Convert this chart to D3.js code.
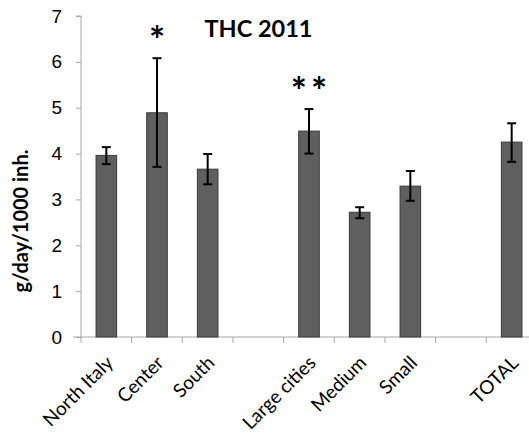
<!DOCTYPE html>
<html>
<head>
<meta charset="utf-8">
<script src="https://cdn.jsdelivr.net/npm/d3@7"></script>
<style>
  html, body { margin: 0; padding: 0; background: #fff; }
  svg { display: block; font-family: Lato, "Open Sans", sans-serif; }
</style>
</head>
<body>
<svg id="chart" width="529" height="435"></svg>
<script>
// THC consumption 2011, g/day per 1000 inhabitants
const slots = ["North Italy", "Center", "South", "", "Large cities", "Medium", "Small", "", "TOTAL"];
const categories = ["North Italy", "Center", "South", "Large cities", "Medium", "Small", "TOTAL"];
const means = [3.96, 4.89, 3.66, 4.49, 2.72, 3.29, 4.25];
const errLow = [3.77, 3.71, 3.33, 4.00, 2.59, 2.97, 3.82];
const errHigh = [4.14, 6.08, 3.99, 4.97, 2.83, 3.62, 4.66];
const marks = ["", "*", "", "**", "", "", ""];
const yTicks = [0, 1, 2, 3, 4, 5, 6, 7];

const svg = d3.select("#chart");
const plotLeft = 81, plotTop = 16, plotBottom = 337, plotRight = 537;

const x = d3.scaleBand().domain(slots.map((d, i) => i)).range([plotLeft, plotRight]).paddingInner(0).paddingOuter(0);
const y = d3.scaleLinear().domain([0, 7]).range([plotBottom, plotTop]);

// y axis
const yAxis = svg.append("g").attr("transform", `translate(${plotLeft},0)`)
  .call(d3.axisLeft(y).tickValues(yTicks).tickSize(5).tickPadding(14).tickFormat(d3.format("d")));
yAxis.select(".domain").attr("stroke", "#a6a6a6").attr("d", `M-5,${y(7)}H0V${y(0)}`);
yAxis.selectAll(".tick line").attr("stroke", "#a6a6a6");
yAxis.selectAll(".tick text").attr("font-size", 19).attr("fill", "#000");

// x axis with ticks at slot boundaries
const xg = svg.append("g");
xg.append("line").attr("x1", plotLeft - 8).attr("x2", 529).attr("y1", plotBottom).attr("y2", plotBottom)
  .attr("stroke", "#a6a6a6");
xg.selectAll("line.tk").data(d3.range(slots.length + 1)).join("line").attr("class", "tk")
  .attr("x1", i => plotLeft + i * x.step()).attr("x2", i => plotLeft + i * x.step())
  .attr("y1", plotBottom).attr("y2", plotBottom + 6).attr("stroke", "#a6a6a6");

const slotIndex = categories.map(c => slots.indexOf(c));
const cx = i => x(slotIndex[i]) + x.bandwidth() / 2;

xg.selectAll("text").data(categories).join("text")
  .attr("transform", (d, i) => `translate(${cx(i) + 8},${plotBottom + 27}) rotate(-45)`)
  .attr("text-anchor", "end")
  .attr("font-size", 19).attr("fill", "#000").text(d => d);

// bars
const barW = 20.6;
svg.append("g").selectAll("rect").data(means).join("rect")
  .attr("x", (d, i) => cx(i) - barW / 2).attr("width", barW)
  .attr("y", d => y(d)).attr("height", d => y(0) - y(d))
  .attr("fill", "#5f5f5f").attr("stroke", "#3a3a3a").attr("stroke-width", 1);

// error bars
const eb = svg.append("g").attr("stroke", "#000").attr("stroke-width", 2);
categories.forEach((c, i) => {
  eb.append("line").attr("x1", cx(i)).attr("x2", cx(i)).attr("y1", y(errLow[i])).attr("y2", y(errHigh[i]));
  eb.append("line").attr("x1", cx(i) - 4.5).attr("x2", cx(i) + 4.5).attr("y1", y(errLow[i])).attr("y2", y(errLow[i]));
  eb.append("line").attr("x1", cx(i) - 4.5).attr("x2", cx(i) + 4.5).attr("y1", y(errHigh[i])).attr("y2", y(errHigh[i]));
});

// significance marks
svg.append("g").selectAll("text").data(marks).join("text")
  .attr("x", (d, i) => cx(i) + 2).attr("y", (d, i) => y(errHigh[i]) - 4)
  .attr("text-anchor", "middle").attr("font-size", 38).attr("font-weight", "bold")
  .attr("letter-spacing", 4)
  .text(d => d);

// title
svg.append("text").attr("x", 258.5).attr("y", 37).attr("text-anchor", "middle")
  .attr("font-size", 23.5).attr("font-weight", "bold").text("THC 2011");

// y axis title
svg.append("text").attr("transform", `translate(28,221) rotate(-90)`)
  .attr("text-anchor", "middle").attr("font-size", 20).attr("font-weight", "bold")
  .text("g/day/1000 inh.");
</script>
</body>
</html>
